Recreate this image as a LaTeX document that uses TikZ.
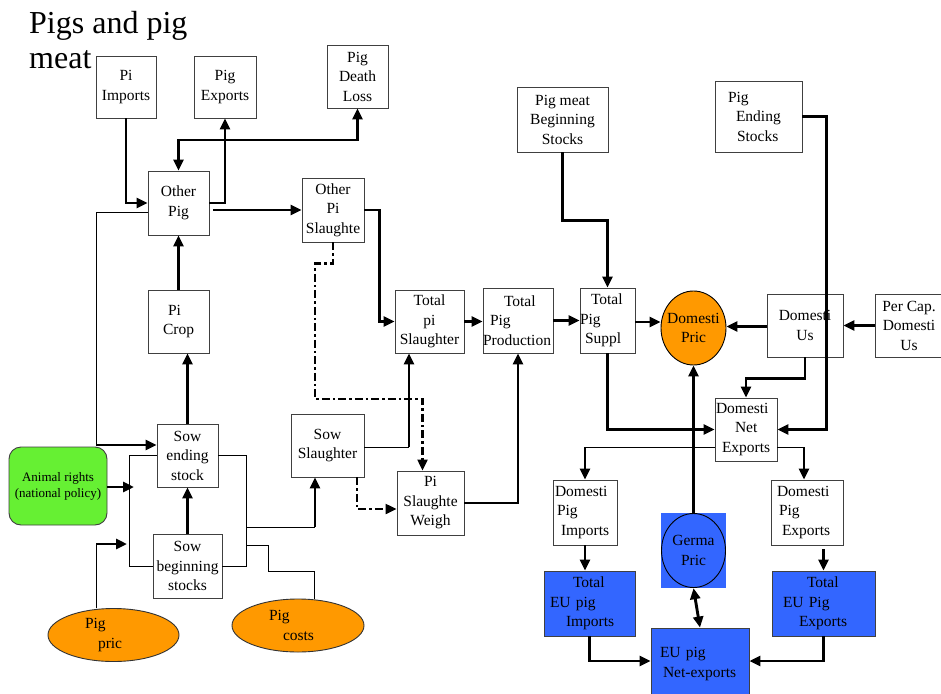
\documentclass[tikz,border=0pt]{standalone}
\usepackage{fontspec}
\setmainfont{Liberation Serif}
\usetikzlibrary{arrows.meta,shapes.geometric}
\definecolor{pOrange}{RGB}{255,153,0}
\definecolor{pBlue}{RGB}{51,102,255}
\definecolor{pGreen}{RGB}{102,240,51}
\newcommand\nf{\fontsize{15.5}{19.5}\selectfont}
\begin{document}
\begin{tikzpicture}[x=1pt,y=-1pt,
  bx/.style 2 args={draw=black!75, line width=0.9pt, fill=white, minimum width=#1, minimum height=#2, inner sep=0pt, align=center, font=\nf},
  lbx/.style 2 args={bx={#1}{#2}, text width=#1, align=left},
  ell/.style={ellipse, draw=black!80, line width=0.9pt, fill=pOrange, inner sep=0pt, font=\nf},
  thk/.style={line width=2.9pt},
  thn/.style={line width=1pt},
  arr/.style={-{Triangle[length=11pt,width=10pt]}},
  arrb/.style={{Triangle[length=11pt,width=10pt]}-{Triangle[length=11pt,width=10pt]}},
  dd/.style={line width=2.2pt, dash pattern=on 8pt off 3pt on 2.5pt off 3pt}
]
\useasboundingbox (0,0) rectangle (941,693);
\fill[white] (0,0) rectangle (941,693);

% title
\node[font=\fontsize{32}{35}\selectfont, align=left, anchor=north west, inner sep=0pt] (title) at (29,11) {Pigs and pig\\meat};

% boxes
\node[bx={60pt}{62pt}] (pimp) at (126,87) {Pi\\Imports};
\node[bx={62pt}{62pt}] (pexp) at (225,87) {Pig\\Exports};
\node[bx={61pt}{63pt}] (pdeath) at (357.5,76.5) {Pig\\Death\\Loss};
\node[bx={61pt}{64pt}] (opig) at (178.5,203) {Other\\Pig};
\node[bx={62pt}{64pt}] (opsl) at (333,210) {Other\\Pi\\Slaughte};
\node[bx={69pt}{63pt}] (tps) at (429.5,321.5) {Total\\pi\\Slaughter};
\node[lbx={70pt}{65pt}] (tpp) at (518,320.5) {\hspace*{21pt}Total\\\hspace*{7pt}Pig\\Production};
\node[lbx={55pt}{65pt}] (tsup) at (607.5,320.5) {\hspace*{11pt}Total\\Pig\\\hspace*{5pt}Suppl};
\node[bx={91pt}{65pt}] (pmbs) at (562.5,119.5) {Pig meat\\Beginning\\Stocks};
\node[lbx={87pt}{71pt}] (pes) at (758.5,116.5) {\hspace*{13pt}Pig\\\hspace*{21pt}Ending\\\hspace*{22pt}Stocks};
\node[ell, draw=black, minimum width=65pt, minimum height=74pt, align=center] (dpric) at (693.5,328) {\makebox[0pt]{Domesti}\\\makebox[0pt]{Pric}};
\node[bx={76pt}{63pt}] (dus) at (805,325.5) {Domesti\\Us};
\node[bx={68pt}{63pt}] (pcap) at (909,325.5) {Per Cap.\\Domesti\\Us};
\node[lbx={62pt}{63pt}] (dne) at (746,429.5) {\hspace*{1pt}Domesti\\\hspace*{20pt}Net\\\hspace*{7pt}Exports};
\node[lbx={64pt}{65pt}] (dpi) at (585,512.5) {\hspace*{2pt}Domesti\\\hspace*{4pt}Pig\\\hspace*{8pt}Imports};
\node[lbx={72pt}{65pt}] (dpe) at (807,512.5) {\hspace*{6pt}Domesti\\\hspace*{8pt}Pig\\\hspace*{11pt}Exports};
\node[fill=pBlue, minimum width=65pt, minimum height=75pt, inner sep=0pt, align=center, font=\nf] (germa) at (693.5,550.5) {Germa\\Pric};
\draw[line width=0.9pt] (germa.center) ellipse [x radius=32pt, y radius=37pt];
\node[lbx={91pt}{65pt}, fill=pBlue] (teui) at (589.5,603.5) {\hspace*{29pt}Total\\\hspace*{6pt}EU pig\\\hspace*{22pt}Imports};
\node[lbx={103pt}{65pt}, fill=pBlue] (teue) at (823.5,603.5) {\hspace*{35pt}Total\\\hspace*{11pt}EU Pig\\\hspace*{27pt}Exports};
\node[lbx={98pt}{72pt}, fill=pBlue] (eun) at (700,664) {\hspace*{9pt}EU pig\\\hspace*{12pt}Net-exports};
\node[bx={98pt}{78pt}, fill=pGreen, rounded corners=12pt, font=\fontsize{13}{16}\selectfont] (anim) at (58,486) {Animal rights\\(national policy)};
\node[bx={61pt}{63pt}] (sowend) at (187.5,455.5) {Sow\\ending\\stock};
\node[bx={69pt}{64pt}] (sowbeg) at (187.5,566) {Sow\\beginning\\stocks};
\node[bx={73pt}{63pt}] (sowsl) at (327.5,445.5) {Sow\\Slaughter};
\node[lbx={61pt}{63pt}] (pcrop) at (178.5,321.5) {\hspace*{20pt}Pi\\\hspace*{15pt}Crop};
\node[bx={67pt}{64pt}] (psw) at (430.5,503) {Pi\\Slaughte\\Weigh};
\node[ell, minimum width=131pt, minimum height=53pt, text width=57pt, align=left] (ppric) at (113.5,635) {Pig\\\hspace*{13pt}pric};
\node[ell, minimum width=132pt, minimum height=53pt, text width=58pt, align=left] (pcost) at (298,625.5) {Pig\\\hspace*{14pt}costs};

% helper coordinates
\coordinate (lk) at (96,445);
\coordinate (lL) at (129,0);
\coordinate (lR) at (246,0);
\coordinate (aT) at (134,487);
\coordinate (pp) at (96,544);
\coordinate (ppT) at (127,544);
\coordinate (ss) at (315,527);
\coordinate (ts) at (409,447);
\path (opig.east |- opsl.west) ++(4,0) coordinate (opE);
\path (tsup.east) ++(0,1.5) coordinate (tsE);
\path (dpric.west |- tsE) coordinate (dpW);
\path (dus.west) ++(0,1) coordinate (dusW);
\path (dpric.east |- dusW) coordinate (dpE);
\path (dne.west) ++(0,17.5) coordinate (dneL);
\path (dne.east) ++(0,17.5) coordinate (dneR);
\coordinate (dpiT) at (dneL -| dpi.north);
\path (dpe.north) ++(-3,0) coordinate (dpeN);
\coordinate (dpeT) at (dneR -| dpeN);
\path (teue.north |- dpe.south) ++(0,4) coordinate (dpeB);

% thick connectors
\draw[thk,arr] (pimp.south) |- (opig.west);
\draw[thk,arr] (opig.east) -| (pexp.south);
\draw[thk,arrb] (opig.north) |- (pdeath.south |- 0,140) -- (pdeath.south);
\draw[thk,arr] (opE) -- (opsl.west);
\draw[thk,arr] (opsl.east) -- ++(15,0) |- (tps.west);
\draw[thk,arr] (tps.east) -- (tps.east -| tpp.west);
\draw[thk,arr] (tpp.east) -- (tsup.west);
\draw[thk,arr] (pmbs.south) -- ++(0,68) -| (tsup.north);
\draw[thk,arr] (tsE) -- (dpW);
\draw[thk,arr] (dusW) -- (dpE);
\draw[thk,arr] (pcap.west) -- (dus.east);
\draw[thk,arr] (pes.east) -- ++(24,0) |- (dne.east);
\draw[thk,arr] (dus.south) -- ++(0,21) -| (dne.north);
\draw[thk,arr] (tsup.south) |- (dne.west);
\draw[thk,arr] (germa.north) -- (dpric.south);
\draw[thn] (dneL) -- (dpiT);
\draw[thk,arr] (dpiT) -- (dpi.north);
\draw[thn] (dneR) -- (dpeT);
\draw[thk,arr] (dpeT) -- (dpeN);
\draw[thk,arr] (dpi.south) -- (dpi.south |- teui.north);
\draw[thk,arr] (dpeB) -- (teue.north);
\draw[thk,arrb] (germa.south) -- (eun.north);
\draw[thk,arr] (teui.south) |- ([yshift=3pt]eun.west);
\draw[thk,arr] (teue.south) |- ([yshift=3pt]eun.east);
\draw[thk,arr] (pcrop.north) -- (opig.south);
\draw[thk,arr] (sowend.north) -- (sowend.north |- pcrop.south);
\draw[thk,arr] (sowbeg.north) -- (sowend.south);
\draw[thk,arr] (psw.east) -| (tpp.south);

% left feedback
\draw[thn] ([yshift=-9pt]opig.west) -| (lk);
\draw[thk,arr] (lk) -- (lk -| sowend.west);

% sow loop
\draw[thn] (sowend.west) -- (sowend.west -| lL) |- (sowbeg.west);
\draw[thn] (sowend.east) -- (sowend.east -| lR) |- (sowbeg.east);
\draw[thk,arr] ([yshift=-1pt]anim.east) -- (aT);
\draw[thn] (ppric.north -| pp) -- (pp);
\draw[thk,arr] (pp) -- (ppT);
\draw[thn] (pcost.north -| 314,0) |- (268,571) |- (lR |- 0,545);
\draw[thn] (lR |- ss) -- (ss);
\draw[thk,arr] (ss) -- (ss |- sowsl.south);
\draw[thn] (sowsl.east |- ts) -- (ts);
\draw[thk,arr] (ts) -- (ts |- tps.south);

% dash-dot connectors
\draw[dd,arr] (opsl.south) -- ++(0,21) -| (315,399) -| ([xshift=-8pt]psw.north);
\draw[dd,arr] ([xshift=29.5pt]sowsl.south) |- ([yshift=-6pt]psw.west);
\end{tikzpicture}
\end{document}
